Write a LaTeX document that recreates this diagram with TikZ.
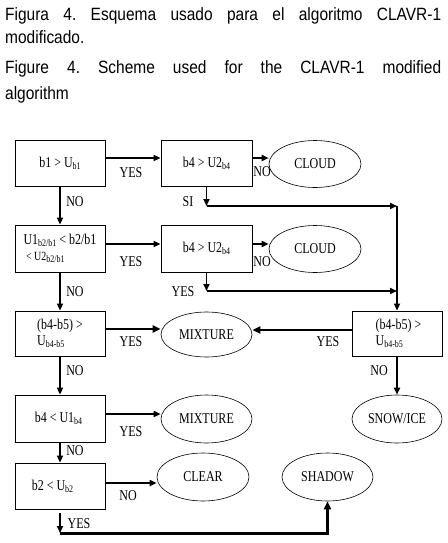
\documentclass[tikz,border=0pt]{standalone}
\usepackage{fontspec}
\setmainfont{Liberation Serif}[FakeStretch=0.8]
\newfontfamily\capfont{Liberation Sans}[FakeStretch=0.87]
\usetikzlibrary{shapes.geometric,arrows.meta}
\newcommand\sbs[1]{\raisebox{-0.3ex}{\fontsize{10}{10}\selectfont #1}}
\frenchspacing
\begin{document}
\begin{tikzpicture}[x=1pt,y=-1pt,
 box/.style={draw,line width=0.8pt,minimum width=90pt,minimum height=46pt,inner sep=2pt,font=\fontsize{15}{16}\selectfont,align=left},
 oval/.style={draw,ellipse,line width=0.6pt,minimum width=92pt,minimum height=47pt,inner sep=0pt,font=\fontsize{15}{16}\selectfont},
 lbl/.style={font=\fontsize{15}{16}\selectfont,inner sep=0pt},
 arr/.style={line width=1.6pt,-{Triangle[length=7pt,width=6pt]}},
 varr/.style={arr,line width=2pt},
 tarr/.style={line width=2.6pt,-{Triangle[length=8pt,width=7pt]}},
 captxt/.style={anchor=base west,inner sep=0pt,font=\capfont\fontsize{17.8}{20}\selectfont}]

\path[use as bounding box,fill=white] (0,0) rectangle (447,543);

% caption
\node[captxt] (c1) at (5,21) {\makebox[436pt][s]{Figura 4. Esquema usado para el algoritmo CLAVR-1}};
\node[captxt] (c2) at (5,44) {modificado.};
\node[captxt] (c3) at (5,74) {\makebox[436pt][s]{Figure 4. Scheme used for the CLAVR-1 modified}};
\node[captxt] (c4) at (5,99) {algorithm};

% shapes
\node[box] (b1) at (60,163) {b1 > U\sbs{b1}};
\node[box,minimum width=91pt] (b2) at (206.5,163) {b4 > U2\sbs{b4}};
\node[oval] (cl1) at (315,164) {CLOUD};
\node[box,minimum height=47pt] (b3) at (60,248.5) {U1\sbs{b2/b1} < b2/b1\\ {\fontsize{12.5}{13}\selectfont\ < U2\sbs{b2/b1}}};
\node[box,minimum width=91pt,minimum height=47pt] (b4) at (206.5,248.5) {b4 > U2\sbs{b4}};
\node[oval] (cl2) at (315,249) {CLOUD};
\node[box,minimum height=45pt] (b5) at (60,333.5) {(b4-b5) >\\U\sbs{b4-b5}};
\node[oval,minimum width=91pt,minimum height=45pt] (m1) at (206.5,334.5) {MIXTURE};
\node[box,minimum height=45pt] (br) at (397,333.5) {\ (b4-b5) >\\\ U\sbs{b4-b5}};
\node[box,minimum height=47pt] (b6) at (60,418.5) {b4 < U1\sbs{b4}\ };
\node[oval,minimum width=91pt,minimum height=48pt] (m2) at (206.5,419) {MIXTURE};
\node[oval,minimum width=90pt,minimum height=48pt] (sn) at (397,419) {SNOW/ICE};
\node[box] (b7) at (60,486) {b2 < U\sbs{b2}\quad};
\node[oval,minimum height=48pt] (clr) at (203,477) {CLEAR};
\node[oval,minimum width=91pt,minimum height=48pt] (sh) at (327.5,477) {SHADOW};

% free points
\coordinate (j1) at (206.5,206);
\coordinate (k1) at (397,206);
\coordinate (j2) at (206.5,291);
\coordinate (k2) at (397,291);
\coordinate (s1) at (60,513);
\coordinate (s2) at (60,533);

% connectors
\draw[arr] ([yshift=5pt]b1.east) -- ([yshift=5pt]b1.east -| b2.west);
\draw[arr] ([yshift=5pt]b2.east) -- ([yshift=5pt]b2.east -| cl1.west);
\draw[varr] (b1.south) -- (b3.north);
\draw[arr] (b2.south) -- (j1);
\draw[arr] (j1) -- (k1);
\draw[arr] (k1) -- (br.north);
\draw[arr] ([yshift=4.5pt]b3.east) -- ([yshift=4.5pt]b3.east -| b4.west);
\draw[arr] ([yshift=4.5pt]b4.east) -- ([yshift=4.5pt]b4.east -| cl2.west);
\draw[varr] (b3.south) -- (b5.north);
\draw[arr] (b4.south) -- (j2);
\draw[arr] (j2) -- (k2);
\draw[tarr] ([yshift=4.5pt]b5.east) -- ([yshift=4.5pt]b5.east -| m1.west);
\draw[tarr] ([yshift=3.5pt]br.west) -- ([yshift=3.5pt]br.west -| m1.east);
\draw[varr] (b5.south) -- (b6.north);
\draw[varr] (br.south) -- (sn.north);
\draw[arr] ([yshift=4.5pt]b6.east) -- ([yshift=4.5pt]b6.east -| m2.west);
\draw[varr] (b6.south) -- (b7.north);
\draw[arr] ([yshift=3pt]b7.east) -- ([yshift=3pt]b7.east -| clr.west);
\draw[arr] (s1) -- (s2);
\draw[line width=3pt,-{Triangle[length=8pt,width=7pt]}] (s2) -| (sh.south);

% labels
\node[lbl] (l1) at (131,173) {YES};
\node[lbl] (l2) at (262,172) {NO};
\node[lbl] (l3) at (75,202) {NO};
\node[lbl] (l4) at (188,202) {SI};
\node[lbl] (l5) at (131,262) {YES};
\node[lbl] (l6) at (262,262) {NO};
\node[lbl] (l7) at (75,292) {NO};
\node[lbl] (l8) at (183,292) {YES};
\node[lbl] (l9) at (131,342) {YES};
\node[lbl] (l10) at (328,342) {YES};
\node[lbl] (l11) at (75,371) {NO};
\node[lbl] (l12) at (379,371) {NO};
\node[lbl] (l13) at (131,432) {YES};
\node[lbl] (l14) at (75,451) {NO};
\node[lbl] (l15) at (128,496) {NO};
\node[lbl] (l16) at (79,524) {YES};
\end{tikzpicture}
\end{document}
